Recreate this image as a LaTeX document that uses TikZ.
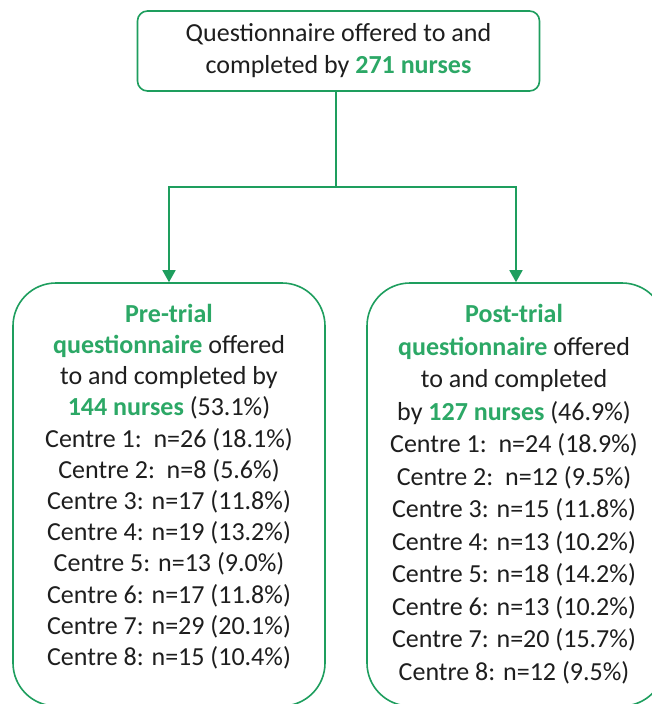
\documentclass[tikz,border=0pt]{standalone}
\usepackage{fontspec}
\setmainfont{Carlito}
\usetikzlibrary{arrows.meta}
\definecolor{linegreen}{RGB}{30,158,94}
\definecolor{textgreen}{RGB}{44,168,102}
\definecolor{textdark}{RGB}{30,30,30}
\newcommand{\gb}[1]{\textcolor{textgreen}{\textbf{#1}}}
\begin{document}
\begin{tikzpicture}[x=1pt,y=1pt,
  topbox/.style={draw=linegreen, line width=1.6pt, rounded corners=10pt, fill=white,
    minimum width=402pt, minimum height=80pt, inner sep=0pt, align=center,
    text=textdark, font=\fontsize{26}{32}\selectfont},
  bigbox/.style={draw=linegreen, line width=1.6pt, rounded corners=43pt, fill=white,
    minimum height=423pt, inner sep=0pt},
  boxtext/.style={align=center, text=textdark, inner sep=0pt},
  conn/.style={draw=linegreen, line width=1.6pt},
  tip/.style={-{Triangle[length=12pt,width=13pt]}}
]
\useasboundingbox (0,0) rectangle (652,-704);
\clip (0,0) rectangle (652,-704);
\fill[white] (0,0) rectangle (652,-704);

\node[topbox] (top) at (338.5,-51) {Questionnaire offered to and\\completed by \gb{271 nurses}};

\node[bigbox, minimum width=312pt] (pre) at (169,-494.5) {};
\node[bigbox, minimum width=298pt] (post) at (516,-494.5) {};

\node[boxtext, font=\fontsize{26}{31.2}\selectfont] (pretext) at (169,-486.5)
  {\gb{Pre-trial}\\
   \gb{questionnaire} offered\\
   to and completed by\\
   \gb{144 nurses} (53.1\%)\\
   Centre 1:\ \ n=26 (18.1\%)\\
   Centre 2:\ \ n=8 (5.6\%)\\
   Centre 3: n=17 (11.8\%)\\
   Centre 4: n=19 (13.2\%)\\
   Centre 5: n=13 (9.0\%)\\
   Centre 6: n=17 (11.8\%)\\
   Centre 7: n=29 (20.1\%)\\
   Centre 8: n=15 (10.4\%)};

\node[boxtext, font=\fontsize{26}{32.5}\selectfont] (posttext) at (514,-494)
  {\gb{Post-trial}\\
   \gb{questionnaire} offered\\
   to and completed\\
   by \gb{127 nurses} (46.9\%)\\
   Centre 1:\ \ n=24 (18.9\%)\\
   Centre 2:\ \ n=12 (9.5\%)\\
   Centre 3: n=15 (11.8\%)\\
   Centre 4: n=13 (10.2\%)\\
   Centre 5: n=18 (14.2\%)\\
   Centre 6: n=13 (10.2\%)\\
   Centre 7: n=20 (15.7\%)\\
   Centre 8: n=12 (9.5\%)};

\coordinate (split) at (336,-187);
\draw[conn] (split |- top.south) -- (split);
\draw[conn, tip] (split) -| (pre.north);
\draw[conn, tip] (split) -| (post.north);
\end{tikzpicture}
\end{document}
